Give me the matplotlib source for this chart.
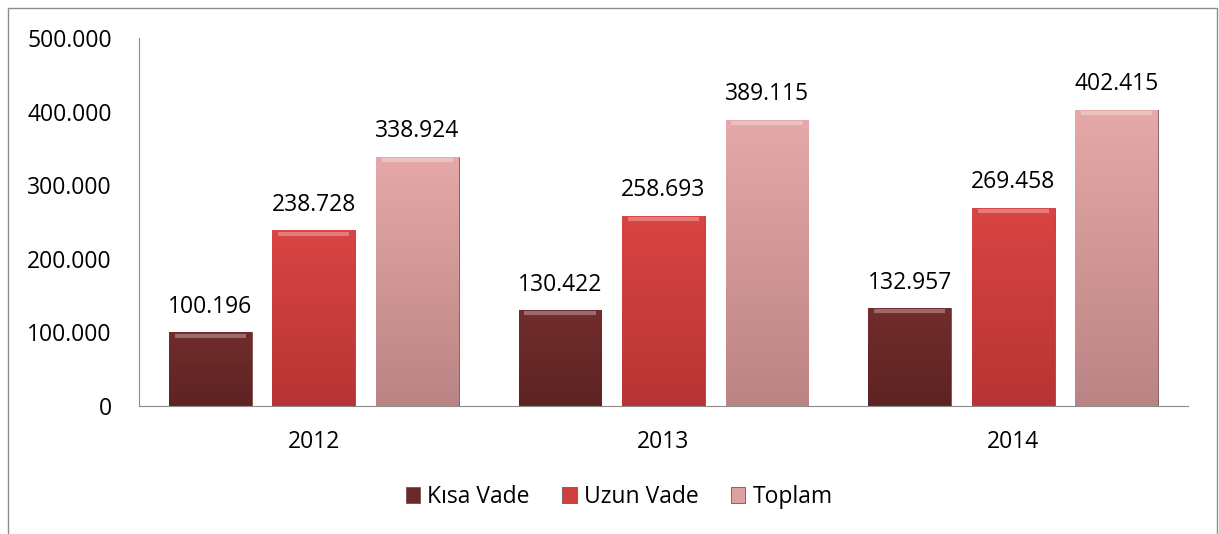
import matplotlib
matplotlib.use("Agg")
import matplotlib.pyplot as plt
import numpy as np
from matplotlib.colors import LinearSegmentedColormap
from matplotlib.patches import Rectangle

years = ["2012", "2013", "2014"]
series_names = ["Kısa Vade", "Uzun Vade", "Toplam"]
kisa_vade = [100196, 130422, 132957]
uzun_vade = [238728, 258693, 269458]
toplam = [338924, 389115, 402415]
yticks = [0, 100000, 200000, 300000, 400000, 500000]
ytick_labels = ["0", "100.000", "200.000", "300.000", "400.000", "500.000"]

base_colors = ["#6a2828", "#d23f3f", "#dfa0a0"]
top_colors = ["#722c2c", "#d94444", "#e6a8a8"]
bot_colors = ["#5e2323", "#b83434", "#bb8484"]

plt.rcParams['font.family'] = ['Open Sans', 'DejaVu Sans']
FS = 16.5

fig = plt.figure(figsize=(12.19, 5.34), dpi=100)
# outer frame
fig.patches.append(Rectangle((8/1219, -0.01), (1217-8)/1219, (534-8)/534 + 0.01,
                             transform=fig.transFigure, fill=False,
                             edgecolor="#8c8c8c", linewidth=1.0))
ax = fig.add_axes([139/1219, (534-406)/534, (1188-139)/1219, (406-38)/534])

x = np.arange(len(years))
offs = [-0.296, 0.0, 0.296]
width = 0.237
data = [kisa_vade, uzun_vade, toplam]
handles = []
for i, (vals, name) in enumerate(zip(data, series_names)):
    bars = ax.bar(x + offs[i], vals, width, color=base_colors[i], label=name,
                  edgecolor="#7a5050", linewidth=0.6, zorder=2)
    handles.append(bars)
    cmap = LinearSegmentedColormap.from_list("g%d" % i, [bot_colors[i], top_colors[i]])
    for b, v in zip(bars, vals):
        x0 = b.get_x(); w = b.get_width(); h = b.get_height()
        grad = np.linspace(0, 1, 100).reshape(-1, 1)
        im = ax.imshow(grad, extent=[x0, x0 + w, 0, h], origin="lower", aspect="auto",
                       cmap=cmap, zorder=2.5)
        im.set_clip_path(b)
        # bevel highlight at top
        ax.plot([x0 + w*0.07, x0 + w*0.93], [h - 4500, h - 4500], color="white",
                alpha=0.3, linewidth=3, zorder=3, solid_capstyle="butt")
        ax.annotate(f"{v/1000:.3f}", (x0 + w/2, v), xytext=(0, 14),
                    textcoords="offset points", ha="center", va="baseline",
                    fontsize=FS, color="#000000", zorder=4)

ax.set_xlim(-0.5, 2.5)
ax.set_ylim(0, 500000)
ax.set_yticks(yticks)
ax.set_yticklabels(ytick_labels, fontsize=FS)
ax.set_xticks(x)
ax.set_xticklabels(years, fontsize=FS)
ax.tick_params(axis="y", length=0, pad=19.5)
ax.tick_params(axis="x", length=0, pad=17)
for s in ["top", "right"]:
    ax.spines[s].set_visible(False)
ax.spines["left"].set_color("#8c8c8c")
ax.spines["bottom"].set_color("#8c8c8c")
ax.set_facecolor("none")

leg = fig.legend(handles=handles, labels=series_names, loc="center",
                 bbox_to_anchor=(619/1219, (534-497)/534), ncol=3, frameon=False,
                 fontsize=FS, handlelength=0.65, handleheight=0.65, handletextpad=0.3,
                 columnspacing=1.4)

fig.savefig("out.png", dpi=100)
